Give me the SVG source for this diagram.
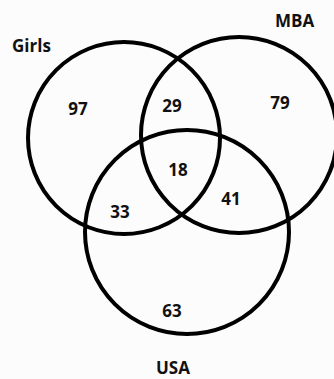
<svg xmlns="http://www.w3.org/2000/svg" width="334" height="379" viewBox="0 0 334 379">
<style>
.c{fill:none;stroke:#000;stroke-width:4}
.t{font-family:"Open Sans","Liberation Sans",sans-serif;font-weight:bold;font-size:17px;fill:#111}
.m{text-anchor:middle}
</style>
<rect width="334" height="379" fill="#fcfcfc"/>
<g id="girls"><circle class="c" cx="124" cy="138" r="96"/><text class="t" x="12" y="52">Girls</text></g>
<g id="mba"><circle class="c" cx="239" cy="135" r="98"/><text class="t" x="275" y="27">MBA</text></g>
<g id="usa"><circle class="c" cx="187" cy="232" r="102"/><text class="t m" x="173" y="374">USA</text></g>
<g id="regions">
<text class="t m" x="78" y="115">97</text>
<text class="t m" x="172" y="112">29</text>
<text class="t m" x="280" y="109">79</text>
<text class="t m" x="178" y="176">18</text>
<text class="t m" x="231" y="205">41</text>
<text class="t m" x="120" y="218">33</text>
<text class="t m" x="172" y="317">63</text>
</g>
</svg>
